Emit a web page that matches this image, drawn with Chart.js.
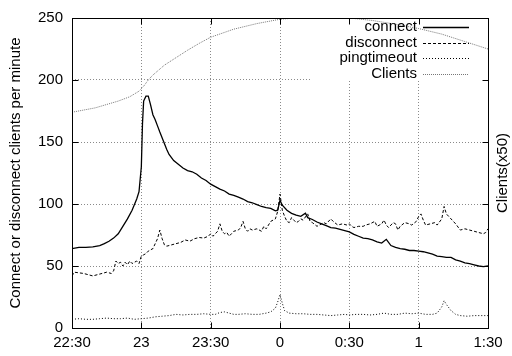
<!DOCTYPE html>
<html>
<head>
<meta charset="utf-8">
<script src="https://cdn.jsdelivr.net/npm/chart.js@4"></script>
<style>
  body { margin: 0; background: #fff; }
  #wrap { width: 512px; height: 356px; }
</style>
</head>
<body>
<div id="wrap"><canvas id="myChart" width="512" height="356"></canvas></div>
<script>
// minutes after 22:30
const tickMinutes = [0, 30, 60, 90, 120, 150, 180];
const tickLabels = ['22:30', '23', '23:30', '0', '0:30', '1', '1:30'];

const connectMin = [0,3,6,9,12,14,16,18,20,22,24,26,28,29,30,30.5,31,32,33,34,35,36,37,38,39.5,41,42,44,46,48,50,52,54,56,58,60,62,64,66,68,70,72,74,76,78,80,82,84,86,88,89,90,91,93,95,97,99,101,102,104,106,108,110,112,114,116,118,120,122,124,126,128,130,132,134,136,138,140,142,144,146,148,150,152,154,156,158,160,162,164,166,168,170,172,174,176,178,180];
const connectVal = [64,65,65,65.5,66.5,68,70,72.5,76,82,88,95,104,110,130,165,183,187,187,180,172,168,163,158,151,144,140,135,132,129,127,126,124,121,119,116,114,112,110.5,108,107,105.5,104,102,101,99.5,98,97,96.5,94.5,95,103,99,95,92.5,91,90,92.5,89,87.5,85.5,84,82.5,81,80.5,79.5,78.5,77.5,75.5,74,72.5,72,71,69.5,68.5,71.5,66.5,65,64,63.5,62.5,62.5,62,61.5,60.5,59.5,58,57.5,57,57,55,54,52.5,52,51,50,49.5,50];

const disconnectMin = [0,1,3,5,7,9,11,13,15,17,18,19,20,21,22,23,24,25,26,27,28,29,30,31,32,33,34,35,36,37,38,39,40,41,43,45,47,49,51,53,55,57,59,60,61,62,63,64,65,66,67,68,69,70,72,73,74,75,76,77,78,80,82,83,84,86,88,89,90,91,92,93,94,95,96,97,98,99,100,102,103,104,106,108,109,110,112,113,115,117,119,120,121,122,124,126,127,129,131,132,134,135,136,137,139,140,141,142,144,146,147,149,150,151,152,153,155,157,158,160,161,162,164,166,168,170,172,174,176,178,179,180];
const disconnectVal = [42,45,44.5,44,43,42,43,44,45,44,46,54,52,53,50,53,51,54,52,53,54,52,58,59,60,62,63,64,68,72,79,72,67,66,67,68,69,71,70,72,73,72.5,74,76,74,76,78,84,78,76,77,74,76,78,79,81,86,80,78,80,79,80,78,82,80,86,88,94,108,95,90,86,85,89,87,85,86,88,87,92,86,85,82,84,85,84,88,86,83,84,83,84,82,81,82,82,83,84,86,82,84,87,83,81,85,84,79,82,85,84,83,86,90,92,87,83,84,85,83,88,98,92,88,84,79,80,79,78,77,76,77,80];

const pingMin = [0,3,6,9,12,15,18,21,24,27,30,33,36,39,42,45,48,51,54,57,60,62,64,66,68,70,72,75,78,81,84,86,88,89,90,91,92,94,97,100,103,106,109,112,115,118,120,123,126,129,132,135,138,141,144,147,150,153,156,158,160,161,162,164,166,168,171,174,177,180];
const pingVal = [7,7.5,7,7,7.5,8,7.5,7.5,8,7,7.5,8,9,9.5,10,11,10.5,11,11,11.5,11,11,12.5,13,12,11,11,11.5,11,11,12,13,16,21,27,20,14,12,11.5,11.5,11,11,10.5,10,10.5,11,10.5,11,11,10.5,11,12,11,11,12,11.5,12,11,11,12,17,22,19,14,11,10,9.5,10,10,10];

const clientsMin = [0,10,20,25,29,31,33,35,40,45,50,55,60,70,80,90,100,110,120,130,140,150,160,165,170,175,180];
const clientsVal = [174,177.5,183,186.5,191,195,200,204,212,218,224,229.5,234.5,241,245.5,249,250.5,250.5,250,248,245,241.5,237,234,231,228,225];

function pts(xs, ys) {
    return xs.map((x, i) => ({ x: x, y: ys[i] }));
}

const FONT = '"Liberation Sans", Arial, Helvetica, sans-serif';

const datasets = [
    { label: 'connect', data: pts(connectMin, connectVal), borderColor: '#000', borderWidth: 1.3, borderDash: [] },
    { label: 'disconnect', data: pts(disconnectMin, disconnectVal), borderColor: '#000', borderWidth: 1, borderDash: [3, 2] },
    { label: 'pingtimeout', data: pts(pingMin, pingVal), borderColor: '#000', borderWidth: 1, borderDash: [1, 2] },
    { label: 'Clients', data: pts(clientsMin, clientsVal), borderColor: '#777', borderWidth: 1, borderDash: [1, 1] }
];
datasets.forEach(d => { d.pointRadius = 0; d.tension = 0; d.fill = false; });

// gnuplot style frame, mirror ticks, key and y2 label
const keyPlugin = {
    id: 'key',
    beforeDatasetsDraw(chart) {
        const c = chart.ctx;
        c.save();
        c.fillStyle = '#fff';
        c.fillRect(312, 20, 175, 61);
        c.restore();
    },
    afterDraw(chart) {
        const c = chart.ctx;
        const a = chart.chartArea;
        const L = Math.round(a.left) + 0.5, R = Math.round(a.right) + 0.5;
        const T = Math.round(a.top) + 0.5, B = Math.round(a.bottom) + 0.5;
        c.save();
        c.strokeStyle = '#000';
        c.lineWidth = 1;
        c.strokeRect(L, T, R - L, B - T);
        c.beginPath();
        chart.scales.y.ticks.forEach(t => {
            const y = Math.round(chart.scales.y.getPixelForValue(t.value)) + 0.5;
            c.moveTo(L, y); c.lineTo(L + 6, y);
            c.moveTo(R, y); c.lineTo(R - 6, y);
        });
        tickMinutes.forEach(m => {
            const x = Math.round(chart.scales.x.getPixelForValue(m)) + 0.5;
            c.moveTo(x, B); c.lineTo(x, B - 6);
            c.moveTo(x, T); c.lineTo(x, T + 6);
        });
        c.stroke();

        c.font = '15px ' + FONT;
        c.textAlign = 'right';
        c.textBaseline = 'middle';
        const ys = [27, 42.5, 58, 73.5];
        chart.data.datasets.forEach((d, i) => {
            c.fillStyle = '#000';
            c.fillText(d.label, 417, ys[i]);
            c.strokeStyle = d.borderColor;
            c.lineWidth = d.borderWidth;
            c.setLineDash(d.borderDash);
            c.beginPath();
            c.moveTo(423, Math.round(ys[i]) + 0.5);
            c.lineTo(469, Math.round(ys[i]) + 0.5);
            c.stroke();
        });
        c.setLineDash([]);

        c.translate(503, (a.top + a.bottom) / 2);
        c.rotate(-Math.PI / 2);
        c.textAlign = 'center';
        c.fillStyle = '#000';
        c.fillText('Clients(x50)', 0, 0);
        c.restore();
    }
};

const gridStyle = { color: '#8a8a8a', lineWidth: 1, drawTicks: false };

const config = {
    type: 'line',
    data: { datasets: datasets },
    options: {
        responsive: false,
        animation: false,
        layout: { padding: { top: 14, left: 0, right: 24, bottom: 0 } },
        plugins: { legend: { display: false }, tooltip: { enabled: false } },
        scales: {
            x: {
                type: 'linear', min: 0, max: 180,
                grid: gridStyle,
                border: { display: false, dash: [1, 2] },
                afterBuildTicks: (s) => { s.ticks = tickMinutes.map(v => ({ value: v })); },
                afterFit: (s) => { s.height = 28; },
                ticks: {
                    color: '#000', font: { family: FONT, size: 15 }, padding: 6, maxRotation: 0,
                    callback: (v) => tickLabels[tickMinutes.indexOf(v)]
                }
            },
            y: {
                min: 0, max: 250,
                grid: gridStyle,
                border: { display: false, dash: [1, 2] },
                afterFit: (s) => { s.width = 72; },
                ticks: { stepSize: 50, color: '#000', font: { family: FONT, size: 15 }, padding: 9 },
                title: { display: true, text: 'Connect or disconnect clients per minute', color: '#000', font: { family: FONT, size: 15 }, padding: { top: 7, bottom: 0 } }
            }
        }
    },
    plugins: [keyPlugin]
};

var ctx = document.getElementById("myChart");
var newmychart = new Chart(ctx, config);
</script>
</body>
</html>
